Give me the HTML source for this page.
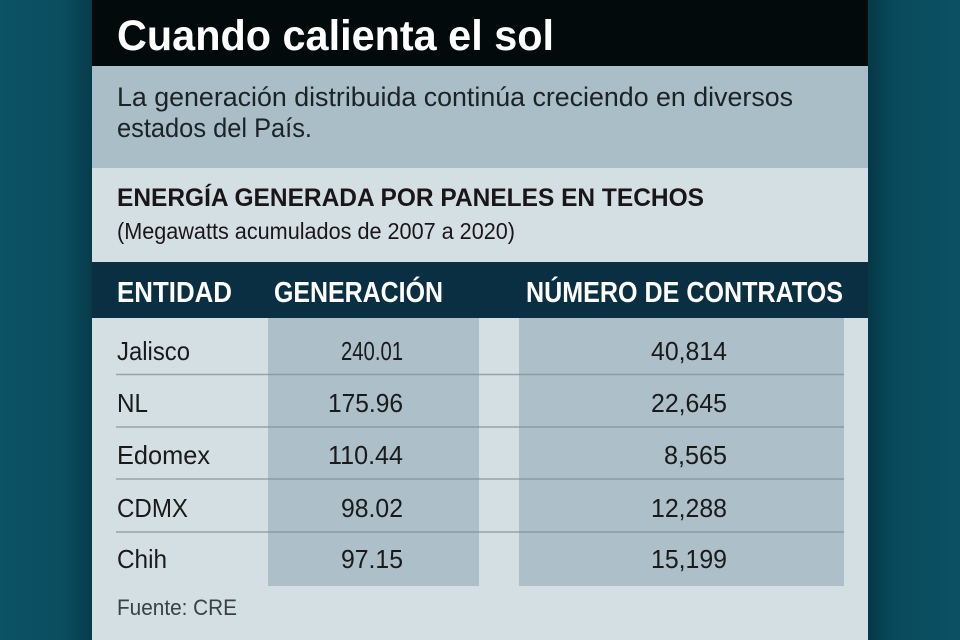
<!DOCTYPE html>
<html><head><meta charset="utf-8">
<style>
html,body{margin:0;padding:0;width:960px;height:640px;overflow:hidden;background:#0a4e60;}
svg{display:block;}
</style></head>
<body>
<svg width="960" height="640" viewBox="0 0 960 640" xmlns="http://www.w3.org/2000/svg" font-family="'Liberation Sans', sans-serif">
  <defs>
    <linearGradient id="lsh" x1="0" x2="1" y1="0" y2="0">
      <stop offset="0" stop-color="#0c5366"/>
      <stop offset="0.7" stop-color="#0a4d5f"/>
      <stop offset="1" stop-color="#073b4a"/>
    </linearGradient>
    <linearGradient id="rsh" x1="0" x2="1" y1="0" y2="0">
      <stop offset="0" stop-color="#063847"/>
      <stop offset="0.3" stop-color="#094b5c"/>
      <stop offset="1" stop-color="#0b5164"/>
    </linearGradient>
  </defs>
  <rect x="0" y="0" width="92" height="640" fill="url(#lsh)"/>
  <rect x="868" y="0" width="92" height="640" fill="url(#rsh)"/>

  <!-- panel -->
  <rect x="92" y="0" width="776" height="640" fill="#d4dfe4"/>
  <rect x="92" y="0" width="776" height="66" fill="#030a0b"/>
  <rect x="92" y="66" width="776" height="102" fill="#a9bec7"/>
  <rect x="92" y="262" width="776" height="56" fill="#0a2f43"/>

  <!-- column boxes -->
  <rect x="268" y="318" width="211" height="268" fill="#adbfc8"/>
  <rect x="519" y="318" width="325" height="268" fill="#adbfc8"/>

  <!-- separators -->
  <g stroke="#7f9099" stroke-opacity="0.75" stroke-width="1.5">
    <line x1="116" y1="374.5" x2="844" y2="374.5"/>
    <line x1="116" y1="427" x2="844" y2="427"/>
    <line x1="116" y1="479" x2="844" y2="479"/>
    <line x1="116" y1="532" x2="844" y2="532"/>
  </g>

  <!-- title -->
  <text x="117" y="50" font-size="43" font-weight="bold" fill="#ffffff" textLength="437" lengthAdjust="spacingAndGlyphs">Cuando calienta el sol</text>

  <!-- subtitle -->
  <g fill="#1c2226" font-size="27">
    <text x="117" y="106" textLength="676" lengthAdjust="spacingAndGlyphs">La generación distribuida continúa creciendo en diversos</text>
    <text x="117" y="137" textLength="195" lengthAdjust="spacingAndGlyphs">estados del País.</text>
  </g>

  <text x="117" y="206" font-size="25" font-weight="bold" fill="#1a1618" textLength="587" lengthAdjust="spacingAndGlyphs">ENERGÍA GENERADA POR PANELES EN TECHOS</text>
  <text x="117" y="239" font-size="23" fill="#1a1618" textLength="398" lengthAdjust="spacingAndGlyphs">(Megawatts acumulados de 2007 a 2020)</text>

  <!-- table header -->
  <g fill="#ffffff" font-size="29" font-weight="bold">
    <text x="117" y="302" textLength="115" lengthAdjust="spacingAndGlyphs">ENTIDAD</text>
    <text x="274" y="302" textLength="169" lengthAdjust="spacingAndGlyphs">GENERACIÓN</text>
    <text x="526" y="302" textLength="317" lengthAdjust="spacingAndGlyphs">NÚMERO DE CONTRATOS</text>
  </g>

  <!-- rows -->
  <g fill="#1a1a1a" font-size="26">
    <text x="117" y="360" textLength="73" lengthAdjust="spacingAndGlyphs">Jalisco</text>
    <text x="117" y="412" textLength="31" lengthAdjust="spacingAndGlyphs">NL</text>
    <text x="117" y="464" textLength="93" lengthAdjust="spacingAndGlyphs">Edomex</text>
    <text x="117" y="517" textLength="71" lengthAdjust="spacingAndGlyphs">CDMX</text>
    <text x="117" y="568" textLength="50" lengthAdjust="spacingAndGlyphs">Chih</text>

    <text x="341" y="360" textLength="62" lengthAdjust="spacingAndGlyphs">240.01</text>
    <text x="328" y="412" textLength="75" lengthAdjust="spacingAndGlyphs">175.96</text>
    <text x="328" y="464" textLength="75" lengthAdjust="spacingAndGlyphs">110.44</text>
    <text x="341" y="517" textLength="62" lengthAdjust="spacingAndGlyphs">98.02</text>
    <text x="341" y="568" textLength="62" lengthAdjust="spacingAndGlyphs">97.15</text>

    <text x="651" y="360" textLength="76" lengthAdjust="spacingAndGlyphs">40,814</text>
    <text x="651" y="412" textLength="76" lengthAdjust="spacingAndGlyphs">22,645</text>
    <text x="664" y="464" textLength="63" lengthAdjust="spacingAndGlyphs">8,565</text>
    <text x="651" y="517" textLength="76" lengthAdjust="spacingAndGlyphs">12,288</text>
    <text x="651" y="568" textLength="76" lengthAdjust="spacingAndGlyphs">15,199</text>
  </g>

  <text x="117" y="615" font-size="22" fill="#3a4044" textLength="120" lengthAdjust="spacingAndGlyphs">Fuente: CRE</text>
</svg>
</body></html>
